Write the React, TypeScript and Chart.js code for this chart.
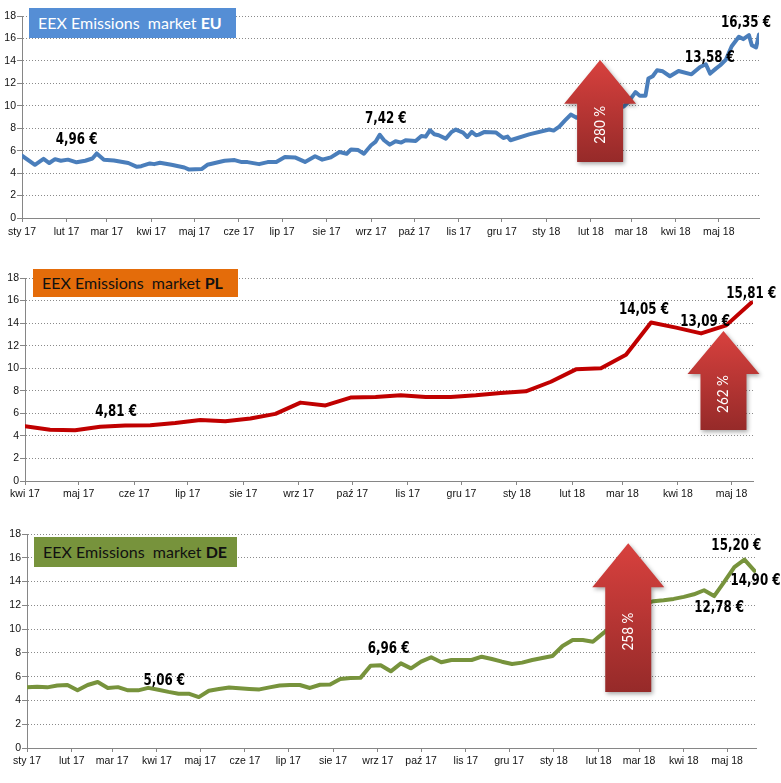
import React, { useEffect, useRef } from "react";
import { Chart, registerables } from "chart.js";

Chart.register(...registerables);

// ---------- EU (days since 1 Jan 2017) ----------
const euDays = [0, 9, 15, 19, 23, 27, 32, 38, 44, 49, 52, 57, 64, 74, 80, 83, 89, 92, 96, 104, 113, 116, 125, 129, 141, 148, 153, 157, 165, 171, 177, 183, 190, 197, 204, 209, 215, 221, 226, 229, 234, 238, 243, 246, 249, 252, 256, 260, 264, 267, 274, 278, 281, 284, 287, 290, 295, 299, 302, 307, 310, 313, 316, 318, 322, 330, 335, 338, 340, 353, 367, 370, 374, 378, 382, 386, 392, 400, 408, 414, 419, 422, 427, 430, 434, 436, 439, 442, 446, 451, 457, 466, 472, 476, 479, 483, 486, 490, 494, 499, 502, 506, 508, 511, 513];
const euValues = [5.55, 4.74, 5.27, 4.9, 5.24, 5.1, 5.2, 4.96, 5.1, 5.3, 5.75, 5.2, 5.13, 4.9, 4.56, 4.62, 4.86, 4.8, 4.92, 4.74, 4.5, 4.33, 4.36, 4.74, 5.1, 5.16, 4.98, 4.98, 4.8, 4.98, 5.0, 5.43, 5.4, 5.0, 5.5, 5.2, 5.4, 5.88, 5.73, 6.1, 6.05, 5.73, 6.48, 6.78, 7.42, 6.93, 6.54, 6.84, 6.72, 6.93, 6.87, 7.31, 7.25, 7.82, 7.46, 7.37, 7.07, 7.67, 7.88, 7.61, 7.22, 7.67, 7.37, 7.43, 7.67, 7.61, 7.13, 7.25, 6.93, 7.45, 7.88, 7.79, 8.15, 8.69, 9.22, 8.93, 9.2, 9.4, 9.6, 9.8, 9.94, 10.33, 11.22, 10.9, 10.9, 12.42, 12.63, 13.16, 13.07, 12.63, 13.1, 12.8, 13.46, 13.7, 12.87, 13.31, 13.61, 14.12, 15.31, 16.15, 15.94, 16.3, 15.4, 15.2, 16.35];
const euMonthDays = [0, 31, 59, 90, 120, 151, 181, 212, 243, 273, 304, 334, 365, 396, 424, 455, 485];
const euMonthLabels = ["sty 17", "lut 17", "mar 17", "kwi 17", "maj 17", "cze 17", "lip 17", "sie 17", "wrz 17", "paź 17", "lis 17", "gru 17", "sty 18", "lut 18", "mar 18", "kwi 18", "maj 18"];

// ---------- PL (days since 1 Apr 2017) ----------
const plDays = [0, 14, 28, 42, 56, 70, 84, 98, 112, 126, 140, 154, 168, 182, 196, 210, 224, 238, 252, 266, 280, 294, 308, 322, 336, 350, 364, 378, 392, 406];
const plValues = [4.85, 4.55, 4.5, 4.81, 4.92, 4.95, 5.15, 5.4, 5.3, 5.55, 5.95, 6.95, 6.7, 7.4, 7.45, 7.6, 7.45, 7.45, 7.6, 7.8, 7.95, 8.8, 9.9, 10.0, 11.2, 14.05, 13.6, 13.09, 13.8, 15.81];
const plMonthDays = [0, 30, 61, 91, 122, 153, 183, 214, 244, 275, 306, 334, 365, 395];
const plMonthLabels = ["kwi 17", "maj 17", "cze 17", "lip 17", "sie 17", "wrz 17", "paź 17", "lis 17", "gru 17", "sty 18", "lut 18", "mar 18", "kwi 18", "maj 18"];

// ---------- DE (days since 1 Jan 2017) ----------
const deDays = [0, 7, 14, 21, 28, 35, 42, 49, 56, 63, 70, 77, 84, 91, 98, 105, 112, 119, 126, 133, 140, 147, 154, 161, 168, 175, 182, 189, 196, 203, 210, 217, 224, 231, 238, 245, 252, 259, 266, 273, 280, 287, 294, 301, 308, 315, 322, 329, 336, 343, 350, 357, 364, 371, 378, 385, 392, 399, 406, 413, 420, 427, 434, 441, 448, 455, 462, 469, 476, 483, 490, 497, 504];
const deValues = [5.1, 5.15, 5.1, 5.25, 5.3, 4.85, 5.3, 5.55, 5.05, 5.12, 4.85, 4.85, 5.06, 4.9, 4.72, 4.57, 4.57, 4.28, 4.82, 4.96, 5.08, 5.02, 4.97, 4.93, 5.1, 5.25, 5.3, 5.3, 5.05, 5.32, 5.35, 5.8, 5.88, 5.9, 6.92, 6.96, 6.45, 7.12, 6.7, 7.26, 7.63, 7.21, 7.4, 7.4, 7.4, 7.68, 7.49, 7.26, 7.07, 7.18, 7.4, 7.57, 7.74, 8.58, 9.08, 9.08, 8.94, 9.64, 10.3, 10.9, 11.5, 12.1, 12.35, 12.43, 12.54, 12.71, 12.93, 13.27, 12.78, 13.97, 15.22, 15.84, 14.9];
const deMonthDays = euMonthDays;
const deMonthLabels = euMonthLabels;

const yTicks = [0, 2, 4, 6, 8, 10, 12, 14, 16, 18];

type Note = { i: number; text: string; dx: number; dy: number };
type Arrow = { day: number; tip: number; base: number; bottom: number; text: string };

const euNotes: Note[] = [
  { i: 7, text: "4,96 €", dx: 0, dy: -22 },
  { i: 44, text: "7,42 €", dx: 6, dy: -16 },
  { i: 93, text: "13,58 €", dx: 4, dy: -6 },
  { i: 104, text: "16,35 €", dx: -13, dy: -11 },
];
const plNotes: Note[] = [
  { i: 3, text: "4,81 €", dx: 16, dy: -15 },
  { i: 25, text: "14,05 €", dx: -7, dy: -12 },
  { i: 27, text: "13,09 €", dx: 4, dy: -11 },
  { i: 29, text: "15,81 €", dx: 0, dy: -9 },
];
const deNotes: Note[] = [
  { i: 12, text: "5,06 €", dx: 16, dy: -7 },
  { i: 35, text: "6,96 €", dx: 8, dy: -16 },
  { i: 70, text: "15,20 €", dx: 2, dy: -21 },
  { i: 72, text: "14,90 €", dx: 1, dy: 10 },
  { i: 68, text: "12,78 €", dx: 5, dy: 12 },
];

const euArrow: Arrow = { day: 402.4, tip: 14.08, base: 10.17, bottom: 5.0, text: "280 %" };
const plArrow: Arrow = { day: 390.5, tip: 13.3, base: 9.49, bottom: 4.52, text: "262 %" };
const deArrow: Arrow = { day: 416.5, tip: 17.23, base: 13.53, bottom: 4.7, text: "258 %" };

const TICK_FONT = { family: "'Liberation Sans', Arial, sans-serif", size: 10.5 };
const AXIS_COLOR = "#868686";

type PanelProps = {
  top: number;
  height: number;
  days: number[];
  values: number[];
  monthDays: number[];
  monthLabels: string[];
  xMax: number;
  color: string;
  padTop: number;
  padRight: number;
  yWidth: number;
  xHeight: number;
  xPad: number;
  notes: Note[];
  arrow: Arrow;
  title: string;
  titleBold: string;
  titleBg: string;
  titleColor: string;
  box: { left: number; top: number; width: number; height: number };
};

function Panel(p: PanelProps) {
  const ref = useRef<HTMLCanvasElement | null>(null);
  useEffect(() => {
    if (!ref.current) return;
    const annot = {
      id: "annot",
      afterDatasetsDraw(chart: any) {
        const ctx = chart.ctx as CanvasRenderingContext2D;
        const xs = chart.scales.x;
        const ys = chart.scales.y;
        // arrow
        const a = p.arrow;
        const cx = xs.getPixelForValue(a.day);
        const tipY = ys.getPixelForValue(a.tip);
        const baseY = ys.getPixelForValue(a.base);
        const botY = ys.getPixelForValue(a.bottom);
        const hw = 36;
        const bw = 23;
        ctx.save();
        const g = ctx.createLinearGradient(0, tipY, 0, botY);
        g.addColorStop(0, "#d8413e");
        g.addColorStop(1, "#962a29");
        ctx.shadowColor = "rgba(0,0,0,0.35)";
        ctx.shadowBlur = 4;
        ctx.shadowOffsetX = 1.5;
        ctx.shadowOffsetY = 2;
        ctx.fillStyle = g;
        ctx.beginPath();
        ctx.moveTo(cx, tipY);
        ctx.lineTo(cx + hw, baseY);
        ctx.lineTo(cx + bw, baseY);
        ctx.lineTo(cx + bw, botY);
        ctx.lineTo(cx - bw, botY);
        ctx.lineTo(cx - bw, baseY);
        ctx.lineTo(cx - hw, baseY);
        ctx.closePath();
        ctx.fill();
        ctx.restore();
        ctx.save();
        ctx.translate(cx, (baseY + botY) / 2 - 8);
        ctx.rotate(-Math.PI / 2);
        ctx.scale(0.9, 1);
        ctx.fillStyle = "#ffffff";
        ctx.font = "15px Lato, 'Open Sans', sans-serif";
        ctx.textAlign = "center";
        ctx.textBaseline = "middle";
        ctx.fillText(a.text, 0, 0);
        ctx.restore();
        // value labels
        for (const n of p.notes) {
          const x = xs.getPixelForValue(p.days[n.i]) + n.dx;
          const y = ys.getPixelForValue(p.values[n.i]) + n.dy;
          ctx.save();
          ctx.translate(x, y);
          ctx.scale(0.88, 1);
          ctx.font = "bold 15px 'DejaVu Sans Condensed', 'DejaVu Sans', sans-serif";
          ctx.fillStyle = "#000";
          ctx.textAlign = "center";
          ctx.textBaseline = "middle";
          ctx.fillText(n.text, 0, 0);
          ctx.restore();
        }
      },
    };
    const chart = new Chart(ref.current, {
      type: "line",
      data: {
        datasets: [
          {
            data: p.days.map((d, i) => ({ x: d, y: p.values[i] })),
            borderColor: p.color,
            borderWidth: 4,
            pointRadius: 0,
            tension: 0,
            borderJoinStyle: "round",
            borderCapStyle: "round",
            fill: false,
          } as any,
        ],
      },
      options: {
        animation: false,
        responsive: false,
        maintainAspectRatio: false,
        layout: { padding: { top: p.padTop, right: p.padRight, left: 0, bottom: 0 } },
        plugins: { legend: { display: false }, tooltip: { enabled: false }, title: { display: false } },
        scales: {
          x: {
            type: "linear",
            min: 0,
            max: p.xMax,
            bounds: "data",
            afterBuildTicks: (s: any) => {
              s.ticks = p.monthDays.map((v) => ({ value: v }));
            },
            afterFit: (s: any) => {
              s.height = p.xHeight;
            },
            ticks: {
              autoSkip: false,
              maxRotation: 0,
              minRotation: 0,
              padding: p.xPad,
              color: "#111",
              font: TICK_FONT,
              callback: (_v: any, i: number) => p.monthLabels[i],
            },
            grid: { drawOnChartArea: false, drawTicks: true, tickLength: 4, color: AXIS_COLOR },
            border: { display: true, color: AXIS_COLOR, width: 1 },
          },
          y: {
            min: 0,
            max: 18,
            afterBuildTicks: (s: any) => {
              s.ticks = yTicks.map((v) => ({ value: v }));
            },
            afterFit: (s: any) => {
              s.width = p.yWidth;
            },
            ticks: { padding: 1, color: "#111", font: TICK_FONT },
            grid: { color: "#8a8a8a", tickLength: 5, tickColor: AXIS_COLOR, tickBorderDash: [] } as any,
            border: { display: true, color: AXIS_COLOR, width: 1, dash: [1, 2] },
          },
        },
      } as any,
      plugins: [annot],
    });
    return () => chart.destroy();
  }, []);
  return (
    <>
      <canvas
        ref={ref}
        width={781}
        height={p.height}
        style={{ position: "absolute", left: 0, top: p.top, width: 781, height: p.height }}
      />
      <div
        style={{
          position: "absolute",
          left: p.box.left,
          top: p.box.top,
          width: p.box.width,
          height: p.box.height,
          background: p.titleBg,
          color: p.titleColor,
          fontFamily: "Lato, 'Open Sans', sans-serif",
          fontSize: 16,
          lineHeight: p.box.height + "px",
          paddingLeft: 9,
          boxSizing: "border-box",
          whiteSpace: "pre",
        }}
      >
        {p.title}
        <b>{p.titleBold}</b>
      </div>
    </>
  );
}

export default function App() {
  return (
    <div style={{ position: "absolute", left: 0, top: 0, width: 781, height: 783, background: "#fff", overflow: "hidden" }}>
      <Panel
        top={0}
        height={252}
        days={euDays}
        values={euValues}
        monthDays={euMonthDays}
        monthLabels={euMonthLabels}
        xMax={513}
        color="#4a7ebb"
        padTop={16}
        padRight={22}
        yWidth={22}
        xHeight={34}
        xPad={4}
        notes={euNotes}
        arrow={euArrow}
        title="EEX Emissions  market "
        titleBold="EU"
        titleBg="#558ed5"
        titleColor="#ffffff"
        box={{ left: 29, top: 8, width: 207, height: 30 }}
      />
      <Panel
        top={252}
        height={264}
        days={plDays}
        values={plValues}
        monthDays={plMonthDays}
        monthLabels={plMonthLabels}
        xMax={407}
        color="#c00000"
        padTop={26}
        padRight={28}
        yWidth={25}
        xHeight={35}
        xPad={3}
        notes={plNotes}
        arrow={plArrow}
        title="EEX Emissions  market "
        titleBold="PL"
        titleBg="#e46c0a"
        titleColor="#111111"
        box={{ left: 33, top: 269, width: 205, height: 28 }}
      />
      <Panel
        top={516}
        height={267}
        days={deDays}
        values={deValues}
        monthDays={deMonthDays}
        monthLabels={deMonthLabels}
        xMax={505}
        color="#77933c"
        padTop={18}
        padRight={25}
        yWidth={27}
        xHeight={35}
        xPad={3}
        notes={deNotes}
        arrow={deArrow}
        title="EEX Emissions  market "
        titleBold="DE"
        titleBg="#77933c"
        titleColor="#111111"
        box={{ left: 34, top: 537, width: 203, height: 30 }}
      />
    </div>
  );
}
